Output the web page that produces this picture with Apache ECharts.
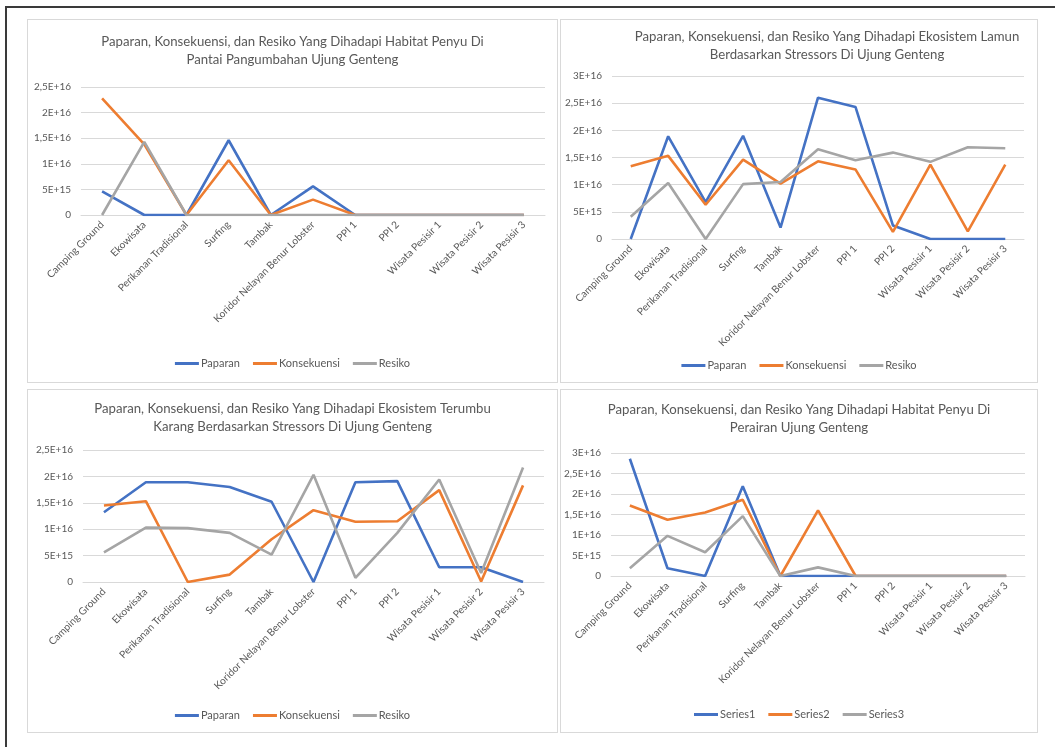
<!DOCTYPE html>
<html>
<head>
<meta charset="utf-8">
<script src="https://cdn.jsdelivr.net/npm/echarts@6/dist/echarts.min.js"></script>
<style>
  html, body { margin: 0; padding: 0; background: #fff; }
  body { width: 1055px; height: 747px; position: relative; overflow: hidden; }
  .frame { position: absolute; left: 5px; top: 6px; right: -10px; bottom: -10px;
           border-top: 2px solid #3a3a3a; border-left: 2px solid #3a3a3a; }
  .panel { position: absolute; border: 1px solid #d9d9d9; box-sizing: border-box; }
</style>
</head>
<body>
<div class="frame"></div>
<div class="panel" id="c1" style="left:27px;top:19px;width:531px;height:364px"></div>
<div class="panel" id="c2" style="left:560px;top:19px;width:478px;height:364px"></div>
<div class="panel" id="c3" style="left:27px;top:389px;width:531px;height:344px"></div>
<div class="panel" id="c4" style="left:560px;top:389px;width:478px;height:344px"></div>
<script>
// categories (same for all four charts)
const categories = ['Camping Ground', 'Ekowisata', 'Perikanan Tradisional', 'Surfing', 'Tambak',
  'Koridor Nelayan Benur Lobster', 'PPI 1', 'PPI 2', 'Wisata Pesisir 1', 'Wisata Pesisir 2', 'Wisata Pesisir 3']

// y tick labels
const ticks25 = ['0', '5E+15', '1E+16', '1,5E+16', '2E+16', '2,5E+16']
const ticks30 = ['0', '5E+15', '1E+16', '1,5E+16', '2E+16', '2,5E+16', '3E+16']

// chart 1: Habitat Penyu Pantai Pangumbahan
const penyuPantaiPaparan = [4.6e15, 0, 0, 1.46e16, 0, 5.6e15, 0, 0, 0, 0, 0]
const penyuPantaiKonsekuensi = [2.28e16, 1.38e16, 0, 1.07e16, 0, 3.0e15, 0, 0, 0, 0, 0]
const penyuPantaiResiko = [0, 1.43e16, 0, 0, 0, 0, 0, 0, 0, 0, 0]

// chart 2: Ekosistem Lamun
const lamunPaparan = [0, 1.89e16, 6.8e15, 1.9e16, 2.1e15, 2.6e16, 2.43e16, 2.5e15, 0, 0, 0]
const lamunKonsekuensi = [1.34e16, 1.53e16, 6.3e15, 1.46e16, 1.02e16, 1.43e16, 1.28e16, 1.3e15, 1.37e16, 1.4e15, 1.37e16]
const lamunResiko = [4.1e15, 1.03e16, 0, 1.01e16, 1.05e16, 1.65e16, 1.45e16, 1.59e16, 1.42e16, 1.69e16, 1.67e16]

// chart 3: Ekosistem Terumbu Karang
const karangPaparan = [1.32e16, 1.89e16, 1.89e16, 1.8e16, 1.52e16, 0, 1.89e16, 1.91e16, 2.8e15, 2.8e15, 0]
const karangKonsekuensi = [1.45e16, 1.53e16, 0, 1.4e15, 8.1e15, 1.36e16, 1.14e16, 1.15e16, 1.74e16, 1e14, 1.83e16]
const karangResiko = [5.6e15, 1.03e16, 1.02e16, 9.3e15, 5.2e15, 2.03e16, 8e14, 9.3e15, 1.94e16, 1.7e15, 2.17e16]

// chart 4: Habitat Penyu Perairan
const penyuPerairanS1 = [2.86e16, 1.9e15, 0, 2.19e16, 0, 0, 0, 0, 0, 0, 0]
const penyuPerairanS2 = [1.72e16, 1.37e16, 1.55e16, 1.86e16, 0, 1.6e16, 0, 0, 0, 0, 0]
const penyuPerairanS3 = [1.9e15, 9.8e15, 5.8e15, 1.46e16, 0, 2.1e15, 0, 0, 0, 0, 0]

const colors = ['#4472C4', '#ED7D31', '#A5A5A5']
const fontFam = 'Lato, "Open Sans", sans-serif'

function makeChart (id, cfg) {
  const chart = echarts.init(document.getElementById(id))
  const series = cfg.names.map((name, i) => ({
    name: name,
    type: 'line',
    data: cfg.data[i],
    symbol: 'none',
    lineStyle: { width: 2.6, color: colors[i] },
    itemStyle: { color: colors[i] },
    emphasis: { disabled: true }
  }))
  chart.setOption({
    animation: false,
    textStyle: { fontFamily: fontFam },
    title: {
      text: cfg.title,
      left: cfg.titleLeft,
      textAlign: cfg.titleAlign,
      top: cfg.titleTop,
      textStyle: { fontFamily: fontFam, fontSize: 13.2, fontWeight: 'normal', color: '#595959', lineHeight: 18 }
    },
    legend: {
      data: cfg.names,
      left: 'center',
      bottom: cfg.legendBottom,
      icon: 'rect',
      itemWidth: 24,
      itemHeight: 3,
      itemGap: 13,
      textStyle: { fontFamily: fontFam, fontSize: 11, color: '#595959', padding: [0, 0, 0, -3] }
    },
    grid: cfg.grid,
    xAxis: {
      type: 'category',
      data: categories,
      boundaryGap: true,
      axisTick: { show: false },
      axisLine: { lineStyle: { color: '#d9d9d9', width: 1 } },
      axisLabel: { interval: 0, rotate: 45, margin: 8, fontSize: 10.2, color: '#595959', fontFamily: fontFam }
    },
    yAxis: {
      type: 'value',
      min: 0,
      max: cfg.max,
      interval: 5e15,
      axisLine: { show: false },
      axisTick: { show: false },
      splitLine: { lineStyle: { color: '#d9d9d9', width: 1 } },
      axisLabel: {
        margin: 10, fontSize: 10, color: '#595959', fontFamily: fontFam,
        formatter: v => cfg.ticks[Math.round(v / 5e15)]
      }
    },
    series: series
  })
}

const names = ['Paparan', 'Konsekuensi', 'Resiko']

makeChart('c1', {
  title: 'Paparan, Konsekuensi, dan Resiko Yang Dihadapi Habitat Penyu Di\nPantai Pangumbahan Ujung Genteng',
  titleLeft: 'center', titleTop: 8,
  names: names,
  data: [penyuPantaiPaparan, penyuPantaiKonsekuensi, penyuPantaiResiko],
  max: 2.5e16, ticks: ticks25,
  grid: { left: 53, right: 12, top: 67, bottom: 167 },
  legendBottom: 8
})

makeChart('c2', {
  title: 'Paparan, Konsekuensi, dan Resiko Yang Dihadapi Ekosistem Lamun\nBerdasarkan Stressors Di Ujung Genteng',
  titleLeft: 261, titleAlign: 'center', titleTop: 3,
  names: names,
  data: [lamunPaparan, lamunKonsekuensi, lamunResiko],
  max: 3e16, ticks: ticks30,
  grid: { left: 51, right: 13, top: 56, bottom: 143 },
  legendBottom: 6
})

makeChart('c3', {
  title: 'Paparan, Konsekuensi, dan Resiko Yang Dihadapi Ekosistem Terumbu\nKarang Berdasarkan Stressors Di Ujung Genteng',
  titleLeft: 'center', titleTop: 5,
  names: names,
  data: [karangPaparan, karangKonsekuensi, karangResiko],
  max: 2.5e16, ticks: ticks25,
  grid: { left: 55, right: 13, top: 60, bottom: 150 },
  legendBottom: 6
})

makeChart('c4', {
  title: 'Paparan, Konsekuensi, dan Resiko Yang Dihadapi Habitat Penyu Di\nPerairan Ujung Genteng',
  titleLeft: 'center', titleTop: 6,
  names: ['Series1', 'Series2', 'Series3'],
  data: [penyuPerairanS1, penyuPerairanS2, penyuPerairanS3],
  max: 3e16, ticks: ticks30,
  grid: { left: 47, right: 12, top: 63, bottom: 156 },
  legendBottom: 7
})
</script>
</body>
</html>
